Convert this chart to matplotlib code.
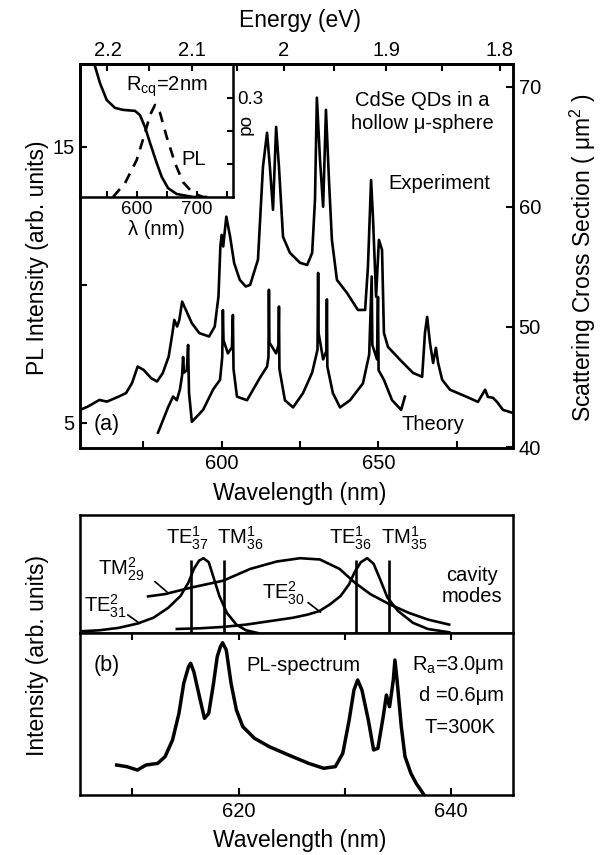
import numpy as np
import matplotlib
matplotlib.use("Agg")
import matplotlib.pyplot as plt

plt.rcParams['font.family'] = ['Liberation Sans', 'DejaVu Sans']
plt.rcParams['mathtext.fontset'] = 'custom'
plt.rcParams['mathtext.rm'] = 'Liberation Sans'
plt.rcParams['mathtext.it'] = 'Liberation Sans:italic'
plt.rcParams['mathtext.bf'] = 'Liberation Sans:bold'
plt.rcParams['axes.linewidth'] = 1.8

# ---- panel (a): experiment (PL, left axis) ----
exp_wl = [554.8, 557.3, 561.0, 563.4, 567.1, 569.5, 571.4, 573.2, 575.1, 577.5,
          579.4, 581.2, 583.1, 584.3, 584.9, 585.8, 586.5, 587.4, 588.6, 590.5,
          592.9, 596.0, 597.8, 599.0, 599.6, 600.0, 600.5, 601.5, 602.7, 604.0,
          605.8, 607.7, 609.1, 611.6, 613.2, 614.5, 615.4, 616.4, 617.4, 618.3,
          619.6, 621.8, 625.0, 627.3, 628.9, 629.8, 630.4, 631.4, 632.4, 633.3,
          634.3, 635.2, 636.8, 640.0, 643.5, 645.8, 646.7, 647.7, 648.3, 649.3,
          650.2, 651.2, 651.8, 653.1, 657.0, 661.1, 664.0, 664.9, 665.6, 666.5,
          667.5, 668.4, 669.1, 670.4, 672.9, 678.3, 681.8, 684.1, 685.0, 686.6,
          687.9, 689.8, 693.0]
exp_pl = [5.47, 5.59, 5.83, 5.77, 5.95, 6.08, 6.44, 7.04, 6.92, 6.62,
          6.50, 6.80, 7.40, 8.25, 8.73, 8.49, 8.73, 9.39, 9.09, 8.61,
          8.25, 8.13, 8.49, 9.58, 11.39, 11.81, 11.39, 12.47, 11.75, 10.79,
          10.18, 9.94, 10.0, 10.91, 14.28, 15.51, 14.28, 12.72, 15.72, 14.28,
          11.74, 11.16, 10.80, 10.72, 11.16, 13.08, 16.78, 14.53, 12.83, 16.34,
          13.70, 11.63, 10.18, 9.71, 9.09, 9.09, 10.65, 13.80, 12.46, 9.57,
          11.63, 11.27, 8.26, 7.75, 7.28, 6.81, 6.67, 8.26, 8.84, 7.90,
          7.17, 7.72, 7.17, 6.56, 6.20, 5.94, 5.76, 6.20, 5.94, 5.91,
          5.76, 5.47, 5.36]

# ---- panel (a): theory (scattering cross section, right axis) ----
th_wl = [579.7, 582.9, 584.5, 585.7, 586.7, 587.4, 587.7, 588.0, 588.9, 589.3,
         589.6, 590.5, 594.1, 597.3, 599.5, 600.2, 600.4, 600.6, 602.0, 603.3,
         603.6, 603.8, 604.9, 608.1, 612.3, 614.5, 614.95, 615.1, 615.25, 617.4,
         618.15, 618.3, 618.45, 620.2, 622.8, 626.0, 628.9, 630.6, 630.8, 630.95,
         632.4, 633.45, 633.6, 633.75, 635.5, 637.8, 641.0, 645.1, 647.1, 647.9,
         648.1, 649.6, 649.9, 650.1, 651.8, 654.4, 657.3, 658.5]
th_cs = [41.2, 43.3, 44.2, 43.9, 44.8, 46.0, 47.5, 46.2, 46.4, 48.5,
         44.5, 42.1, 43.1, 44.8, 45.6, 47.5, 51.4, 48.9, 47.8, 48.3,
         51.0, 46.5, 44.2, 43.9, 45.8, 46.7, 47.5, 53.1, 48.7, 47.8,
         48.5, 51.7, 46.5, 43.9, 43.3, 44.5, 46.2, 48.1, 54.5, 49.5,
         47.3, 48.0, 52.3, 46.7, 44.5, 43.3, 43.9, 45.3, 47.7, 54.2,
         48.5, 47.3, 52.5, 46.4, 45.6, 43.9, 43.1, 44.2]

# ---- inset: absorption (solid) and PL (dashed) ----
abs_wl = [527, 538.3, 549.5, 563.3, 576.7, 596.7, 605, 613.3, 621.7, 632.8,
          641.2, 651.7, 666.2, 693.3, 715]
abs_od = [0.415, 0.345, 0.294, 0.270, 0.264, 0.261, 0.248, 0.212, 0.164, 0.103,
          0.061, 0.027, 0.009, 0.0, 0.0]
inpl_wl = [560, 580, 599.5, 613.3, 621.7, 630, 638.3, 649.5, 663.3, 676.7, 693.3, 710]
inpl_od = [0.0, 0.042, 0.112, 0.194, 0.248, 0.279, 0.255, 0.182, 0.103, 0.045, 0.012, 0.0]

# ---- panel (b): cavity modes ----
te31_wl = [605.1, 606.9, 608.7, 610.5, 612.0, 613.4, 614.55, 615.3, 615.8, 616.3,
           616.7, 617.2, 617.6, 618.2, 618.9, 619.8, 620.7, 621.8]
te31 = [0.014, 0.023, 0.043, 0.080, 0.129, 0.214, 0.314, 0.429, 0.543, 0.614,
        0.634, 0.600, 0.486, 0.314, 0.171, 0.071, 0.023, 0.0]
te30_wl = [614.2, 616.4, 618.5, 620.7, 622.9, 625.1, 626.55, 627.6, 628.6, 629.6,
           630.4, 630.9, 631.5, 632.1, 632.7, 633.3, 634.0, 635.0, 636.4, 637.8, 639.8]
te30 = [0.034, 0.040, 0.051, 0.071, 0.100, 0.129, 0.157, 0.186, 0.243, 0.314,
        0.414, 0.514, 0.600, 0.634, 0.586, 0.457, 0.300, 0.186, 0.086, 0.034, 0.006]
tm29_wl = [611.5, 613.1, 615.6, 618.55, 621.1, 623.6, 625.8, 627.65, 629.5, 630.9,
           632.4, 634.2, 636.0, 637.8, 639.8]
tm29 = [0.310, 0.330, 0.386, 0.443, 0.543, 0.606, 0.634, 0.623, 0.543, 0.429,
        0.329, 0.243, 0.171, 0.114, 0.071]
mode_wl = [615.5, 618.6, 631.0, 634.1]
mode_top = 0.62
mode_names = [r'TE$^1_{37}$', r'TM$^1_{36}$', r'TE$^1_{36}$', r'TM$^1_{35}$']
mode_name_wl = [615.2, 620.2, 630.5, 635.6]

# ---- panel (b): PL spectrum ----
pl_wl = [608.55, 609.5, 610.5, 611.3, 612.4, 613.1, 613.8, 614.4, 614.85, 615.3,
         615.5, 615.8, 616.4, 616.8, 617.2, 617.65, 618.0, 618.3, 618.5, 618.85,
         619.3, 619.8, 620.4, 621.5, 622.9, 624.7, 626.6, 628.0, 629.1, 629.8,
         630.4, 630.85, 631.2, 631.6, 632.2, 632.7, 633.1, 633.6, 633.9, 634.2,
         634.55, 634.7, 634.9, 635.3, 635.65, 636.2, 636.7, 637.45]
pl_int = [0.185, 0.175, 0.154, 0.185, 0.195, 0.237, 0.340, 0.504, 0.689, 0.792,
          0.813, 0.761, 0.586, 0.473, 0.504, 0.689, 0.854, 0.916, 0.940, 0.895,
          0.689, 0.525, 0.422, 0.350, 0.298, 0.247, 0.195, 0.165, 0.175, 0.257,
          0.463, 0.648, 0.710, 0.648, 0.463, 0.278, 0.288, 0.484, 0.617, 0.545,
          0.710, 0.833, 0.710, 0.422, 0.237, 0.134, 0.072, 0.0]

lw = 1.9
tick_fs = 14.5
lab_fs = 16.5
txt_fs = 14.5

W, H = 603, 855
fig = plt.figure(figsize=(W / 100, H / 100), dpi=100)


def rect(x0, y0, x1, y1):
    # pixel box -> figure fraction
    return [x0 / W, 1 - y1 / H, (x1 - x0) / W, (y1 - y0) / H]


# ================= panel (a) =================
ax = fig.add_axes(rect(80, 64, 513, 448))
ax.plot(exp_wl, exp_pl, color='black', lw=lw)
ax.set_xlim(554.8, 693)
ax.set_ylim(4.09, 18.0)
ax.set_xticks([575, 600, 625, 650, 675])
ax.set_xticklabels(['', '600', '', '650', ''])
ax.set_yticks([5, 10, 15])
ax.set_yticklabels(['5', '', '15'])
ax.tick_params(direction='in', length=5, width=1.5, labelsize=tick_fs, pad=4)

axr = ax.twinx()
axr.plot(th_wl, th_cs, color='black', lw=lw)
axr.set_ylim(39.92, 71.9)
axr.set_yticks([40, 50, 60, 70])
axr.tick_params(direction='in', length=5, width=1.5, labelsize=tick_fs, pad=4)

sec = ax.secondary_xaxis('top', functions=(lambda x: 1239.84 / np.maximum(x, 1e-9),
                                           lambda e: 1239.84 / np.maximum(e, 1e-9)))
sec.set_xticks([2.2, 2.1, 2.0, 1.9, 1.8])
sec.set_xticklabels(['2.2', '2.1', '2', '1.9', '1.8'])
sec.set_xticks([2.15, 2.05, 1.95, 1.85], minor=True)
sec.tick_params(which='both', direction='in', length=5, width=1.5, labelsize=tick_fs, pad=3)

ax.text(0.79, 0.906, 'CdSe QDs in a', transform=ax.transAxes, ha='center', va='center', fontsize=txt_fs)
ax.text(0.79, 0.846, 'hollow μ-sphere', transform=ax.transAxes, ha='center', va='center', fontsize=txt_fs)
ax.text(0.83, 0.69, 'Experiment', transform=ax.transAxes, ha='center', va='center', fontsize=txt_fs)
ax.text(0.815, 0.0625, 'Theory', transform=ax.transAxes, ha='center', va='center', fontsize=txt_fs)
ax.text(0.062, 0.0625, '(a)', transform=ax.transAxes, ha='center', va='center', fontsize=txt_fs + 1)

# inset
ins = ax.inset_axes([0, 1 - 133 / 384, 153 / 433, 133 / 384])
ins.set_facecolor('none')
ins.plot(abs_wl, abs_od, color='black', lw=lw)
ins.plot(inpl_wl, inpl_od, color='black', lw=lw, ls=(0, (4, 3)))
ins.set_xlim(505, 760)
ins.set_ylim(0, 0.403)
ins.set_xticks([550, 600, 650, 700, 750])
ins.set_xticklabels(['', '600', '', '700', ''])
ins.yaxis.tick_right()
ins.set_yticks([0.1, 0.2, 0.3])
ins.set_yticklabels(['', '', '0.3'])
ins.tick_params(direction='in', length=4, width=1.5, labelsize=tick_fs - 1, pad=3)
ins.set_xlabel('λ (nm)', fontsize=txt_fs, labelpad=1)
ins.text(1.07, 0.53, 'od', transform=ins.transAxes, rotation=270, ha='center', va='center', fontsize=txt_fs - 1)
ins.text(0.57, 0.83, r'R$_{\mathregular{cq}}$=2nm', transform=ins.transAxes, ha='center', va='center', fontsize=txt_fs)
ins.text(0.74, 0.28, 'PL', transform=ins.transAxes, ha='center', va='center', fontsize=txt_fs)

fig.text(300 / W, 1 - 21 / H, 'Energy (eV)', ha='center', va='center', fontsize=lab_fs)
fig.text(300 / W, 1 - 493 / H, 'Wavelength (nm)', ha='center', va='center', fontsize=lab_fs)
fig.text(38 / W, 1 - 258 / H, 'PL Intensity (arb. units)', rotation=90, ha='center', va='center', fontsize=lab_fs)
fig.text(583 / W, 1 - 258 / H, r'Scattering Cross Section ( μm$^2$ )', rotation=90, ha='center', va='center', fontsize=lab_fs)

# ================= panel (b) =================
axu = fig.add_axes(rect(80, 515, 513, 633))
axl = fig.add_axes(rect(80, 633, 513, 795))
for a in (axu, axl):
    a.set_xlim(605.1, 645.8)
    a.set_ylim(0, 1)
    a.set_yticks([])

axu.plot(te31_wl, te31, color='black', lw=lw)
axu.plot(te30_wl, te30, color='black', lw=lw)
axu.plot(tm29_wl, tm29, color='black', lw=lw)
axu.vlines(mode_wl, 0, mode_top, color='black', lw=lw)
axu.set_xticks([])
for name, x in zip(mode_names, mode_name_wl):
    axu.text(x, 0.80, name, ha='center', va='center', fontsize=txt_fs)
axu.text(609.0, 0.54, r'TM$^2_{29}$', ha='center', va='center', fontsize=txt_fs)
axu.text(607.45, 0.23, r'TE$^2_{31}$', ha='center', va='center', fontsize=txt_fs)
axu.text(624.2, 0.34, r'TE$^2_{30}$', ha='center', va='center', fontsize=txt_fs)
axu.text(641.9, 0.49, 'cavity', ha='center', va='center', fontsize=txt_fs)
axu.text(641.9, 0.31, 'modes', ha='center', va='center', fontsize=txt_fs)
axu.plot([612.15, 613.25], [0.435, 0.35], color='black', lw=1.2)
axu.plot([609.6, 610.7], [0.153, 0.082], color='black', lw=1.2)
axu.plot([626.55, 627.7], [0.257, 0.177], color='black', lw=1.2)

axl.plot(pl_wl, pl_int, color='black', lw=2.5)
axl.set_xticks([610, 620, 630, 640])
axl.set_xticklabels(['', '620', '', '640'])
axl.tick_params(axis='x', which='both', direction='in', top=True, length=5, width=1.5,
                labelsize=tick_fs, pad=5)
axl.text(0.062, 0.80, '(b)', transform=axl.transAxes, ha='center', va='center', fontsize=txt_fs + 1)
axl.text(0.515, 0.80, 'PL-spectrum', transform=axl.transAxes, ha='center', va='center', fontsize=txt_fs)
axl.text(0.873, 0.80, r'R$_{\mathregular{a}}$=3.0μm', transform=axl.transAxes, ha='center', va='center', fontsize=txt_fs)
axl.text(0.88, 0.617, 'd =0.6μm', transform=axl.transAxes, ha='center', va='center', fontsize=txt_fs)
axl.text(0.878, 0.414, 'T=300K', transform=axl.transAxes, ha='center', va='center', fontsize=txt_fs)

fig.text(300 / W, 1 - 840 / H, 'Wavelength (nm)', ha='center', va='center', fontsize=lab_fs)
fig.text(38 / W, 1 - 656 / H, 'Intensity (arb. units)', rotation=90, ha='center', va='center', fontsize=lab_fs)

fig.savefig('out.png', dpi=100)
